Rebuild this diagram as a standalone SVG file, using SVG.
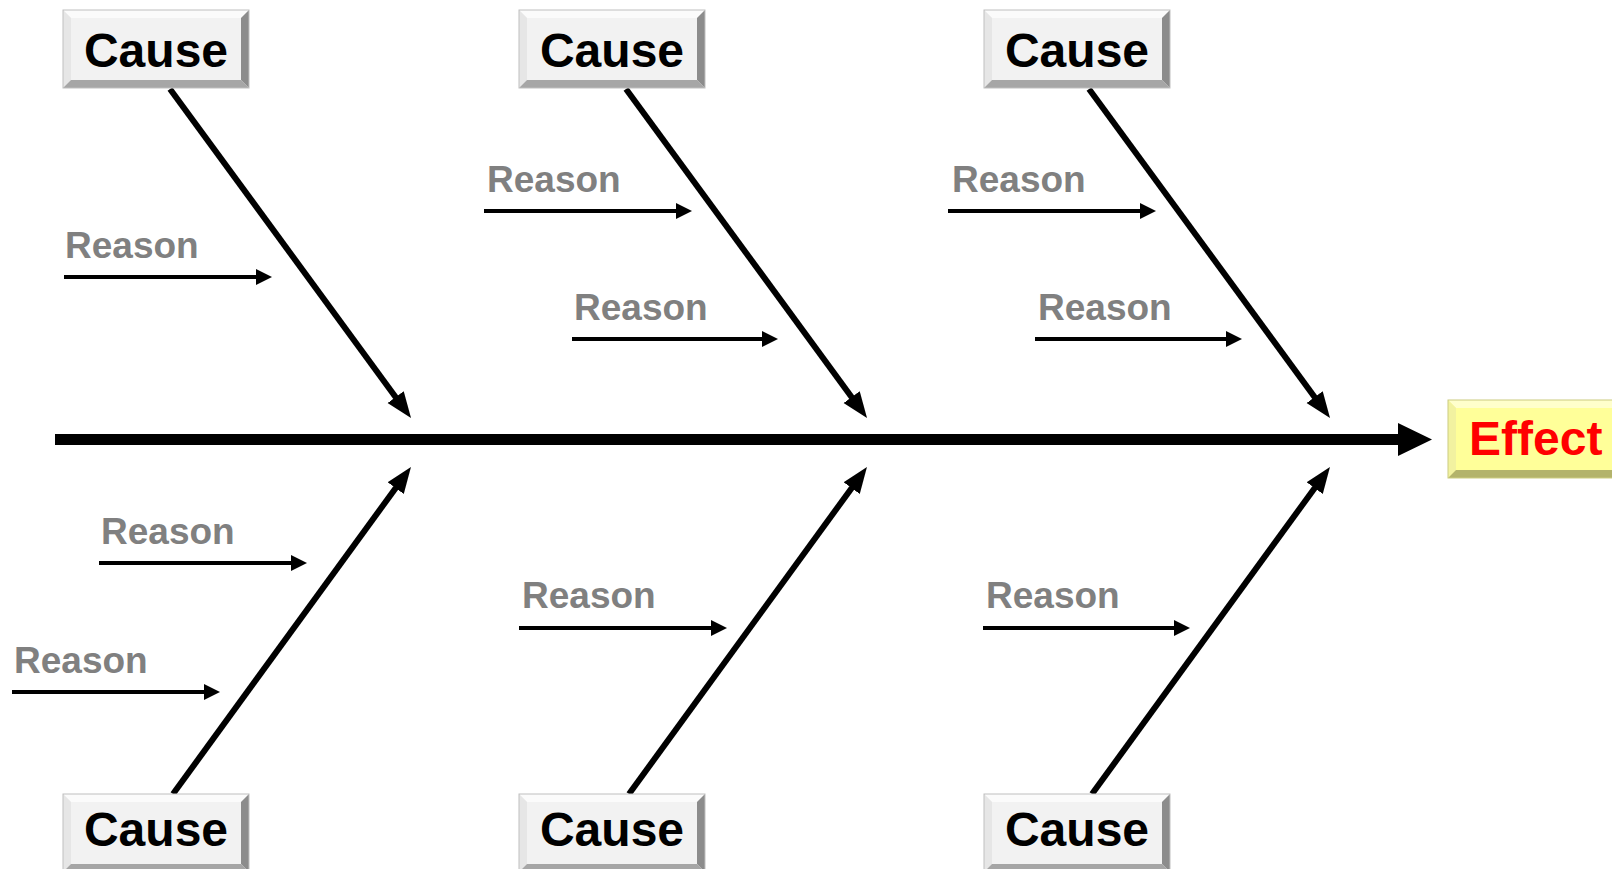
<svg xmlns="http://www.w3.org/2000/svg" width="1612" height="869" viewBox="0 0 1612 869">
<style>
.cause{font-family:"Liberation Sans",Arial,sans-serif;font-weight:bold;font-size:48px;fill:#000;text-anchor:middle}
.effect{font-family:"Liberation Sans",Arial,sans-serif;font-weight:bold;font-size:48px;fill:#ff0000}
.reason{font-family:"Liberation Sans",Arial,sans-serif;font-weight:bold;font-size:37px;fill:#808080}
.bone{stroke:#000;stroke-width:6;fill:none;marker-end:url(#bigHead)}
.rarrow{stroke:#000;stroke-width:4;fill:none;marker-end:url(#smallHead)}
.c-face{fill:#f2f2f2}
.c-top{fill:#fbfbfb}
.c-left{fill:#e6e6e6}
.c-right{fill:#8c8c8c}
.c-bot{fill:#a6a6a6}
.c-edge{fill:none;stroke:#bfbfbf;stroke-width:1}
.e-face{fill:#ffff99}
.e-top{fill:#ffffcc}
.e-left{fill:#f2f2a0}
.e-right{fill:#a6a660}
.e-bot{fill:#b3b36b}
</style>
<defs>
<marker id="bigHead" markerUnits="userSpaceOnUse" markerWidth="28" markerHeight="22" refX="6" refY="10" orient="auto">
<path d="M0,0 L26,10 L0,20 Z" fill="#000"/>
</marker>
<marker id="smallHead" markerUnits="userSpaceOnUse" markerWidth="18" markerHeight="18" refX="4" refY="8" orient="auto">
<path d="M0,0 L16,8 L0,16 Z" fill="#000"/>
</marker>
<g id="causeBox">
<rect x="0" y="0" width="186" height="78" class="c-face"/>
<polygon points="0,0 186,0 178,8 8,8" class="c-top"/>
<polygon points="0,0 8,8 8,70 0,78" class="c-left"/>
<polygon points="186,0 186,78 178,70 178,8" class="c-right"/>
<polygon points="0,78 8,70 178,70 186,78" class="c-bot"/>
<rect x="0" y="0" width="186" height="78" class="c-edge"/>
</g>
</defs>

<g id="connectors">
<line x1="55" y1="439.5" x2="1400" y2="439.5" stroke="#000" stroke-width="11"/>
<polygon points="1398,423 1432,439.5 1398,456" fill="#000"/>
<line class="bone" x1="170" y1="89" x2="399.2" y2="401.9"/>
<line class="bone" x1="626" y1="89" x2="855.2" y2="401.9"/>
<line class="bone" x1="1089" y1="89" x2="1318.2" y2="401.9"/>
<line class="bone" x1="173" y1="794" x2="399.2" y2="483.2"/>
<line class="bone" x1="629" y1="794" x2="855.2" y2="483.2"/>
<line class="bone" x1="1092" y1="794" x2="1318.2" y2="483.2"/>
<line class="rarrow" x1="64" y1="277" x2="260" y2="277"/>
<line class="rarrow" x1="484" y1="211" x2="680" y2="211"/>
<line class="rarrow" x1="572" y1="339" x2="766" y2="339"/>
<line class="rarrow" x1="948" y1="211" x2="1144" y2="211"/>
<line class="rarrow" x1="1035" y1="339" x2="1230" y2="339"/>
<line class="rarrow" x1="99" y1="563" x2="295" y2="563"/>
<line class="rarrow" x1="12" y1="692" x2="208" y2="692"/>
<line class="rarrow" x1="519" y1="628" x2="715" y2="628"/>
<line class="rarrow" x1="983" y1="628" x2="1178" y2="628"/>
</g>

<g id="cause-top-1"><use href="#causeBox" x="63" y="10"/><text class="cause" x="156" y="67">Cause</text></g>
<g id="cause-top-2"><use href="#causeBox" x="519" y="10"/><text class="cause" x="612" y="67">Cause</text></g>
<g id="cause-top-3"><use href="#causeBox" x="984" y="10"/><text class="cause" x="1077" y="67">Cause</text></g>
<g id="cause-bot-1"><use href="#causeBox" x="63" y="794"/><text class="cause" x="156" y="846">Cause</text></g>
<g id="cause-bot-2"><use href="#causeBox" x="519" y="794"/><text class="cause" x="612" y="846">Cause</text></g>
<g id="cause-bot-3"><use href="#causeBox" x="984" y="794"/><text class="cause" x="1077" y="846">Cause</text></g>

<g id="effect">
<rect x="1448" y="400" width="180" height="78" class="e-face"/>
<polygon points="1448,400 1628,400 1620,408 1456,408" class="e-top"/>
<polygon points="1448,400 1456,408 1456,470 1448,478" class="e-left"/>
<polygon points="1448,478 1456,470 1620,470 1628,478" class="e-bot"/>
<rect x="1448" y="400" width="180" height="78" fill="none" stroke="#cccc80" stroke-width="1"/>
<text class="effect" x="1469" y="455">Effect</text>
</g>

<g id="reasons">
<text class="reason" x="65" y="258">Reason</text>
<text class="reason" x="487" y="192">Reason</text>
<text class="reason" x="574" y="320">Reason</text>
<text class="reason" x="952" y="192">Reason</text>
<text class="reason" x="1038" y="320">Reason</text>
<text class="reason" x="101" y="544">Reason</text>
<text class="reason" x="14" y="673">Reason</text>
<text class="reason" x="522" y="608">Reason</text>
<text class="reason" x="986" y="608">Reason</text>
</g>
</svg>
